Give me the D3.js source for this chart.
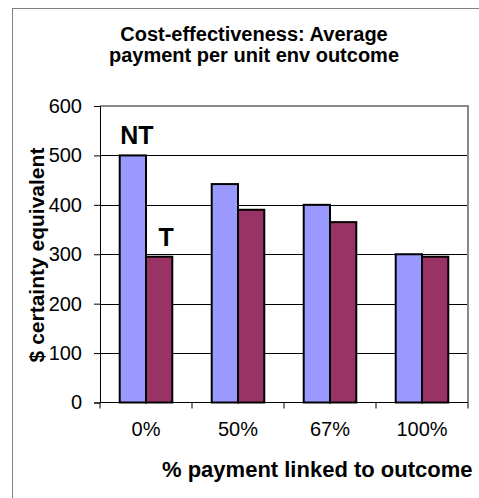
<!DOCTYPE html>
<html>
<head>
<meta charset="utf-8">
<script src="https://cdn.jsdelivr.net/npm/d3@7"></script>
<style>
  html, body { margin: 0; padding: 0; background: #fff; }
  svg { display: block; font-family: "Liberation Sans", Arial, sans-serif; }
</style>
</head>
<body>
<svg id="chart" width="479" height="498"></svg>
<script>
// Share of payment tied to outcome
const categories = ["0%", "50%", "67%", "100%"];
// Average payment per unit outcome ($ certainty equivalent)
const seriesNames = ["NT", "T"];
const valuesNT = [500, 442, 400, 300];
const valuesT = [295, 390, 365, 295];
const yTicks = [0, 100, 200, 300, 400, 500, 600];

const colors = { NT: "#9999ff", T: "#993366" };

const svg = d3.select("#chart");

// Outer chart frame (extends off the right/bottom edge)
svg.append("rect")
  .attr("x", 12.5).attr("y", 8.5)
  .attr("width", 600).attr("height", 600)
  .attr("fill", "#fff").attr("stroke", "#808080").attr("stroke-width", 1);

const plot = { left: 100, right: 468, top: 106, bottom: 402.5 };

const x = d3.scaleBand().domain(categories).range([plot.left, plot.right]).paddingInner(0).paddingOuter(0);
const y = d3.scaleLinear().domain([0, 600]).range([plot.bottom, plot.top]);

// Bars fill 2/3.5 of each band (gap = 1.5 bar widths)
const barW = x.bandwidth() / 3.5;
const gap = (x.bandwidth() - 2 * barW) / 2;
const xs = d3.scaleBand().domain(seriesNames).range([gap, gap + 2 * barW]).padding(0);

// Title
const title = svg.append("text").attr("text-anchor", "middle")
  .attr("font-weight", "bold").attr("font-size", 20).attr("fill", "#000");
title.append("tspan").attr("x", 254).attr("y", 41).text("Cost-effectiveness: Average");
title.append("tspan").attr("x", 254).attr("y", 62).text("payment per unit env outcome");

// Horizontal gridlines
svg.append("g").selectAll("line")
  .data(yTicks.filter(d => d > 0 && d < 600))
  .join("line")
  .attr("x1", plot.left).attr("x2", plot.right)
  .attr("y1", d => Math.round(y(d)) + 0.5).attr("y2", d => Math.round(y(d)) + 0.5)
  .attr("stroke", "#000").attr("stroke-width", 1);

// Plot-area border (top and right)
svg.append("path")
  .attr("d", `M${plot.left},${plot.top} H${plot.right} V${plot.bottom}`)
  .attr("fill", "none").attr("stroke", "#888").attr("stroke-width", 2);

// Bars
const rows = categories.map((c, i) => ({ cat: c, NT: valuesNT[i], T: valuesT[i] }));
const groups = svg.append("g").selectAll("g")
  .data(rows).join("g")
  .attr("transform", d => `translate(${x(d.cat)},0)`);
groups.selectAll("rect")
  .data(d => seriesNames.map(s => ({ s, v: d[s] })))
  .join("rect")
  .attr("x", d => xs(d.s))
  .attr("width", barW)
  .attr("y", d => y(d.v))
  .attr("height", d => y(0) - y(d.v))
  .attr("fill", d => colors[d.s])
  .attr("stroke", "#000").attr("stroke-width", 2);

// Y axis
const yAxis = d3.axisLeft(y).tickValues(yTicks).tickSize(6).tickPadding(12).tickFormat(d3.format("d"));
const gy = svg.append("g").attr("transform", `translate(${plot.left},0)`).call(yAxis);
gy.select(".domain").attr("stroke", "#000");
gy.selectAll(".tick line").attr("stroke", "#000");
gy.selectAll(".tick text").attr("font-size", 20).attr("fill", "#000")
  .attr("font-family", "'Liberation Sans', Arial, sans-serif");

// X axis: ticks at category boundaries, labels centered in each band
const gx = svg.append("g").attr("transform", `translate(0,${plot.bottom})`);
gx.append("line").attr("x1", plot.left).attr("x2", plot.right).attr("stroke", "#000");
gx.selectAll("line.bnd")
  .data(categories.map(c => x(c)).concat([plot.right]))
  .join("line").attr("class", "bnd")
  .attr("x1", d => d).attr("x2", d => d).attr("y1", 0).attr("y2", 6)
  .attr("stroke", "#000");
gx.selectAll("text")
  .data(categories).join("text")
  .attr("x", d => x(d) + x.bandwidth() / 2)
  .attr("y", 33)
  .attr("text-anchor", "middle").attr("font-size", 20).attr("fill", "#000")
  .text(d => d);

// Axis titles
svg.append("text")
  .attr("x", 162).attr("y", 477)
  .attr("font-weight", "bold").attr("font-size", 22).attr("fill", "#000")
  .text("% payment linked to outcome");

svg.append("text")
  .attr("transform", "translate(44,255) rotate(-90)")
  .attr("text-anchor", "middle")
  .attr("font-weight", "bold").attr("font-size", 21).attr("fill", "#000")
  .text("$ certainty equivalent");

// Series annotations above the first group
const firstCat = categories[0];
svg.append("text")
  .attr("x", x(firstCat) + xs("NT") + barW / 2 + 4)
  .attr("y", y(valuesNT[0]) - 11)
  .attr("text-anchor", "middle").attr("font-weight", "bold").attr("font-size", 25).attr("fill", "#000")
  .text("NT");
svg.append("text")
  .attr("x", x(firstCat) + xs("T") + barW / 2 + 7)
  .attr("y", y(valuesT[0]) - 11)
  .attr("text-anchor", "middle").attr("font-weight", "bold").attr("font-size", 25).attr("fill", "#000")
  .text("T");
</script>
</body>
</html>
